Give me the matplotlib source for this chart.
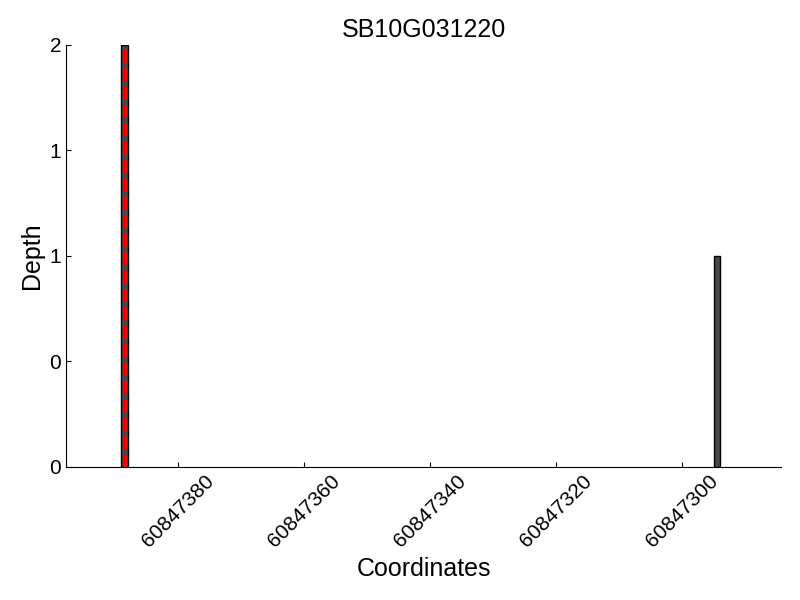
import matplotlib
matplotlib.use('Agg')
from matplotlib import pyplot as plt
from matplotlib.ticker import FormatStrFormatter

plt.rcParams['font.family'] = ['Liberation Sans', 'DejaVu Sans']

coords = [60847388, 60847294]
depth = [2, 1]
marker_pos = 60847388
xticks = [60847380, 60847360, 60847340, 60847320, 60847300]

fig = plt.figure(figsize=(8, 6), dpi=100)
ax = fig.add_axes([0.0825, 0.222, 0.894, 0.703])
ax.bar(coords, depth, width=1.0, align='edge', color='#484848', edgecolor='black', linewidth=1)
ax.axvline(marker_pos + 0.5, color='red', linestyle='--', linewidth=2.5)

ax.set_xlim(60847397.8, 60847284.3)
ax.set_ylim(0, 2)
ax.set_xticks(xticks)
ax.set_xticklabels([str(t) for t in xticks], rotation=45, fontsize=15)
ax.set_yticks([0, 0.5, 1, 1.5, 2])
ax.yaxis.set_major_formatter(FormatStrFormatter('%d'))
ax.tick_params(axis='y', labelsize=15)
ax.tick_params(direction='in', top=False, right=False)
ax.spines['top'].set_visible(False)
ax.spines['right'].set_visible(False)

ax.set_title('SB10G031220', fontsize=18)
ax.set_xlabel('Coordinates', fontsize=18)
ax.set_ylabel('Depth', fontsize=18)

fig.savefig('out.png', dpi=100)
